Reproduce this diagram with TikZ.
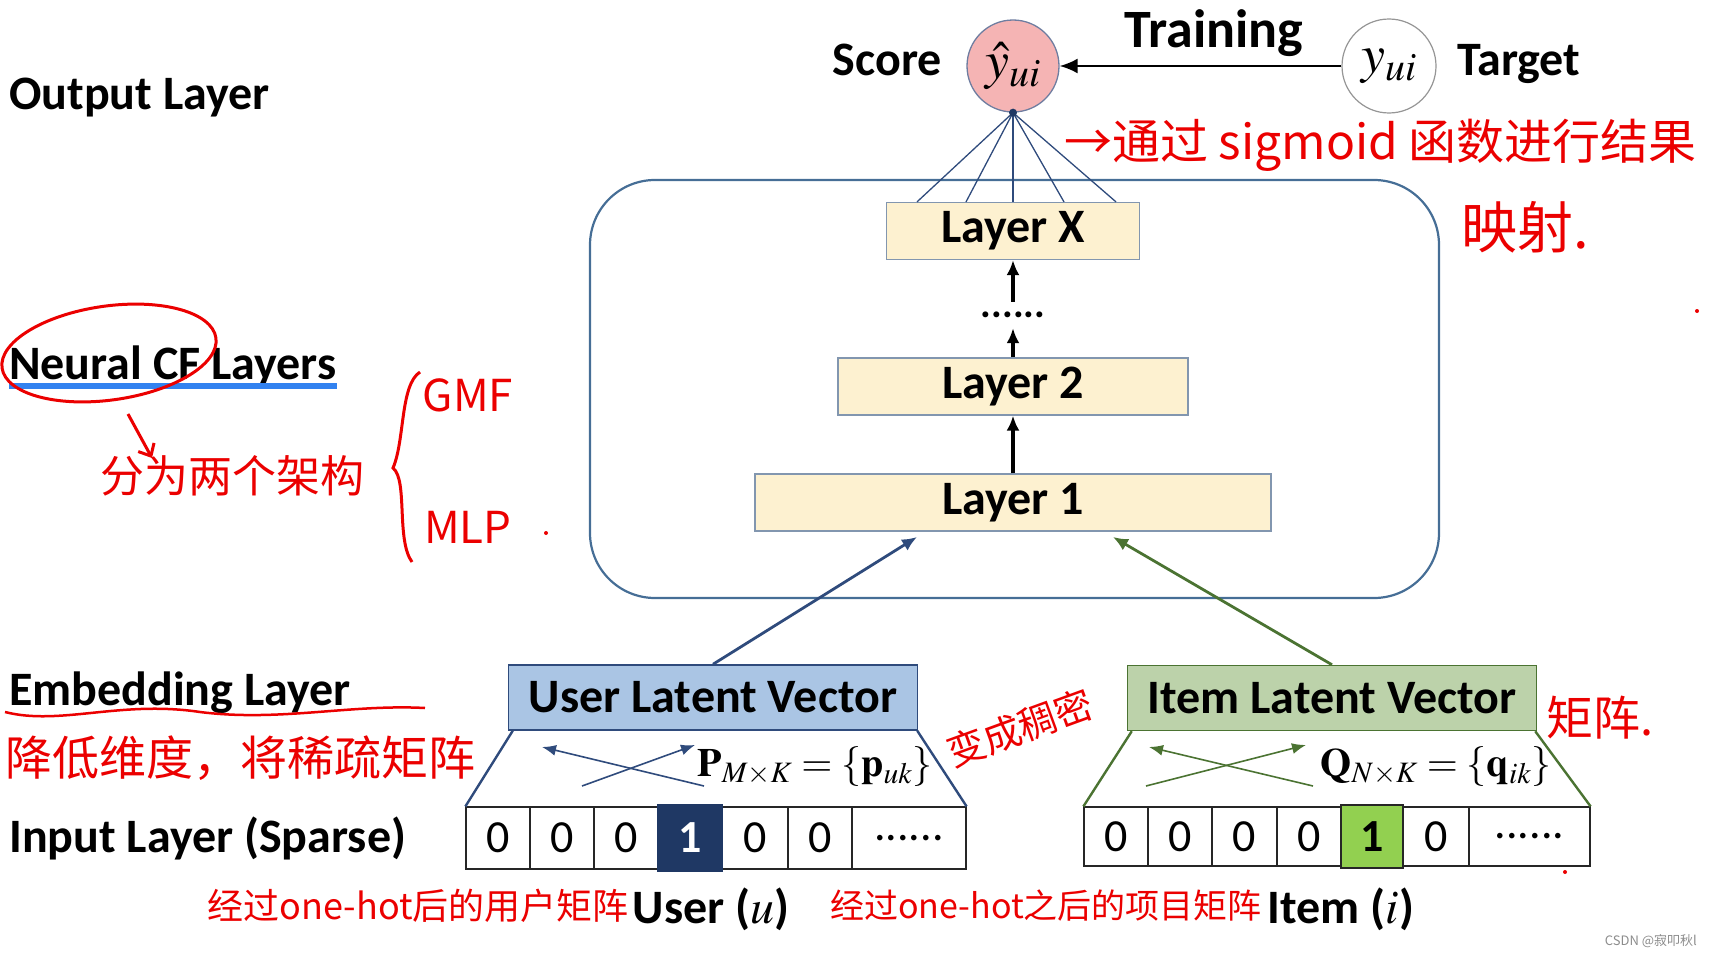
\documentclass[tikz,border=0pt]{standalone}
\usepackage{mathptmx}
\usepackage[no-math]{fontspec}
\setmainfont{Carlito}
\newfontfamily\handfont{Noto Sans CJK SC}
\usetikzlibrary{arrows.meta,calc,positioning}

\definecolor{framecol}{RGB}{70,110,150}
\definecolor{layerline}{RGB}{130,150,175}
\definecolor{layerfill}{RGB}{253,241,208}
\definecolor{scorefill}{RGB}{245,180,180}
\definecolor{scoreline}{RGB}{110,125,160}
\definecolor{targetline}{RGB}{150,150,150}
\definecolor{userfill}{RGB}{170,197,228}
\definecolor{userline}{RGB}{47,75,124}
\definecolor{itemfill}{RGB}{188,210,170}
\definecolor{itemline}{RGB}{75,115,50}
\definecolor{navy}{RGB}{31,56,100}
\definecolor{onegreen}{RGB}{146,208,80}
\definecolor{handred}{RGB}{235,0,0}
\definecolor{ulblue}{RGB}{50,130,240}

\newcommand{\hsz}[1]{\handfont\fontsize{#1}{#1}\selectfont}

\tikzset{
  lbl/.style={inner sep=0pt, font=\fontsize{48}{52}\selectfont\bfseries},
  layerbox/.style={lbl, draw=layerline, fill=layerfill, line width=1.2pt, minimum height=57pt},
  vecbox/.style={lbl, line width=1.5pt, minimum width=409pt, minimum height=65pt},
  cell/.style={draw=black!85, line width=1.2pt, fill=white, inner sep=0pt, font=\fontsize{46}{46}\selectfont},
  fanline/.style={userline, line width=1.3pt},
  xarrow/.style={line width=1.6pt, -{Latex[length=14pt,width=11pt]}},
  hand/.style={text=handred, inner sep=0pt}
}

\begin{document}
\begin{tikzpicture}[x=1pt, y=-1pt, >={Latex[length=15pt,width=13pt]}]
\useasboundingbox (0,0) rectangle (1711,958);

% layer names on the left
\node[lbl, anchor=base west] (outl) at (9,110) {Output Layer};
\node[lbl, anchor=base west] (ncfl) at (9,379) {Neural CF Layers};
\draw[ulblue, line width=5.5pt] ($(ncfl.base west)+(0,7)$) -- ($(ncfl.base east)+(0,7)$);
\node[lbl, anchor=base west] (embl) at (9,705) {Embedding Layer};
\node[lbl, anchor=base west] (inl) at (9,852) {Input Layer (Sparse)};

% output layer
\node[circle, draw=scoreline, fill=scorefill, line width=1.3pt, minimum size=92pt, inner sep=0pt,
      font=\fontsize{54}{54}\selectfont] (score) at (1013,66) {$\hat{y}_{ui}$};
\node[circle, draw=targetline, fill=white, line width=1.2pt, minimum size=94pt, inner sep=0pt,
      font=\fontsize{54}{54}\selectfont] (target) at (1389,66) {$y_{ui}$};
\node[lbl, anchor=base east] (scorel) at (942,76) {Score};
\node[lbl, anchor=base west] (targetl) at (1457,76) {Target};
\node[lbl, font=\fontsize{54}{58}\selectfont\bfseries] (train) at (1214,33) {Training};
\draw[-{Latex[length=18pt,width=15pt]}, line width=2.2pt] (target) -- (score);

% neural CF layers
\draw[framecol, line width=2.2pt, rounded corners=65pt] (590,180) rectangle (1439,598);
\node[layerbox, minimum width=253pt] (layx) at (1013,231) {Layer X};
\node[layerbox, minimum width=350pt] (lay2) at (1013,386.5) {Layer 2};
\node[layerbox, minimum width=516pt] (lay1) at (1013,502.5) {Layer 1};
\node[inner sep=0pt, minimum height=26pt, font=\fontsize{40}{40}\selectfont\bfseries] (dots) at (1013,315) {......};
\draw[->, line width=3.4pt] (lay1) -- (lay2);
\draw[->, line width=3.4pt] (lay2) -- (dots);
\draw[->, line width=3.4pt] (dots) -- (layx);
\foreach \dx in {-96,-47,0,51,103}
  \draw[fanline] ($(layx.north)+(\dx,0)$) -- (score.south);
\fill[navy] (score.south) circle (4pt);

% embedding layer
\node[vecbox, draw=userline, fill=userfill] (user) at (713,697.5) {User Latent Vector};
\node[vecbox, draw=itemline, fill=itemfill] (item) at (1332,698) {Item Latent Vector};
\coordinate (uend) at (917,537);
\coordinate (iend) at (1113,537);
\draw[->, userline, line width=2.8pt] (user.north) -- (uend);
\draw[->, itemline, line width=2.8pt] (item.north) -- (iend);

% input layer (sparse)
\foreach \n/\xa/\xb/\t in {1/466/530/0, 2/530/594/0, 3/594/658/0, 5/722/788/0, 6/788/852/0, 7/852/966/{......}}
  \node[cell, minimum width={\xb-\xa}, minimum height=62pt] (u\n) at ({(\xa+\xb)/2},838) {\t};
\node[cell, draw=navy, fill=navy, text=white, font=\fontsize{46}{46}\selectfont\bfseries,
      minimum width=64pt, minimum height=66pt] (u4) at (690,838) {1};
\foreach \n/\xa/\xb/\t in {1/1084/1148/0, 2/1148/1212/0, 3/1212/1277/0, 4/1277/1341/0, 6/1403/1469/0, 7/1469/1590/{......}}
  \node[cell, minimum width={\xb-\xa}, minimum height=59pt] (i\n) at ({(\xa+\xb)/2},836.5) {\t};
\node[cell, fill=onegreen, font=\fontsize{46}{46}\selectfont\bfseries,
      minimum width=62pt, minimum height=63pt] (i5) at (1372,836.5) {1};

\draw[userline, line width=2.4pt] ($(user.south west)+(5,0)$) -- (u1.north west);
\draw[userline, line width=2.4pt] ($(user.south east)+(-1,0)$) -- (u7.north east);
\draw[itemline, line width=2.4pt] ($(item.south west)+(5,0)$) -- (i1.north west);
\draw[itemline, line width=2.4pt] ($(item.south east)+(-2,0)$) -- (i7.north east);

\coordinate (ua1) at (582,786); \coordinate (ua2) at (695,745);
\coordinate (ub1) at (704,786); \coordinate (ub2) at (542,747);
\draw[xarrow, userline] (ua1) -- (ua2);
\draw[xarrow, userline] (ub1) -- (ub2);
\coordinate (ia1) at (1146,786); \coordinate (ia2) at (1306,745);
\coordinate (ib1) at (1313,786); \coordinate (ib2) at (1149,747);
\draw[xarrow, itemline] (ia1) -- (ia2);
\draw[xarrow, itemline] (ib1) -- (ib2);

\node[font=\fontsize{40}{40}\selectfont, inner sep=0pt] (pform) at (815,767) {$\mathbf{P}_{M\times K}=\{\mathbf{p}_{uk}\}$};
\node[font=\fontsize{40}{40}\selectfont, inner sep=0pt] (qform) at (1436,767) {$\mathbf{Q}_{N\times K}=\{\mathbf{q}_{ik}\}$};

\node[lbl] (userl) at (711,909) {User ($u$)};
\node[lbl] (iteml) at (1341,909) {Item ($i$)};

% red notes
\draw[handred, line width=3pt, rotate around={8:(109,353)}] (109,353) ellipse [x radius=108, y radius=47];
\draw[handred, line width=3pt, -{Straight Barb[length=10pt,width=18pt]}] (128,414) -- (152,458);
\node[hand, font=\hsz{44}] (fenwei) at (232,476) {分为两个架构};
\draw[handred, line width=3pt] (420,372) .. controls (400,385) and (405,440) .. (393,468)
  .. controls (408,480) and (396,540) .. (412,562);
\node[hand, font=\hsz{44}] (gmf) at (468,395) {GMF};
\node[hand, font=\hsz{44}] (mlp) at (468,527) {MLP};
\fill[handred] (546,533) circle (2pt);
\node[hand, font=\hsz{48}, anchor=west] (sigm) at (1064,145) {→通过 sigmoid 函数进行结果};
\node[hand, font=\hsz{56}] (yingshe) at (1525,227) {映射.};
\fill[handred] (1697,311) circle (2pt);
\draw[handred, line width=2.5pt] (5,712) .. controls (60,726) and (120,700) .. (200,712)
  .. controls (280,722) and (350,704) .. (425,708);
\node[hand, font=\hsz{47}, anchor=west] (jiangdi) at (5,758) {降低维度，将稀疏矩阵};
\node[hand, font=\hsz{38}, rotate=20] (biancheng) at (1020,728) {变成稠密};
\node[hand, font=\hsz{47}] (juzhen) at (1600,718) {矩阵.};
\node[hand, font=\hsz{36}, anchor=east] (unote) at (629,906) {经过one-hot后的用户矩阵};
\node[hand, font=\hsz{34}, anchor=east] (inote) at (1262,906) {经过one-hot之后的项目矩阵};
\fill[handred] (1565,872) circle (2pt);

\node[text=black!45, font=\hsz{13}, anchor=east, inner sep=0pt] (mark) at (1697,941) {CSDN @寂叩秋l};
\end{tikzpicture}
\end{document}
